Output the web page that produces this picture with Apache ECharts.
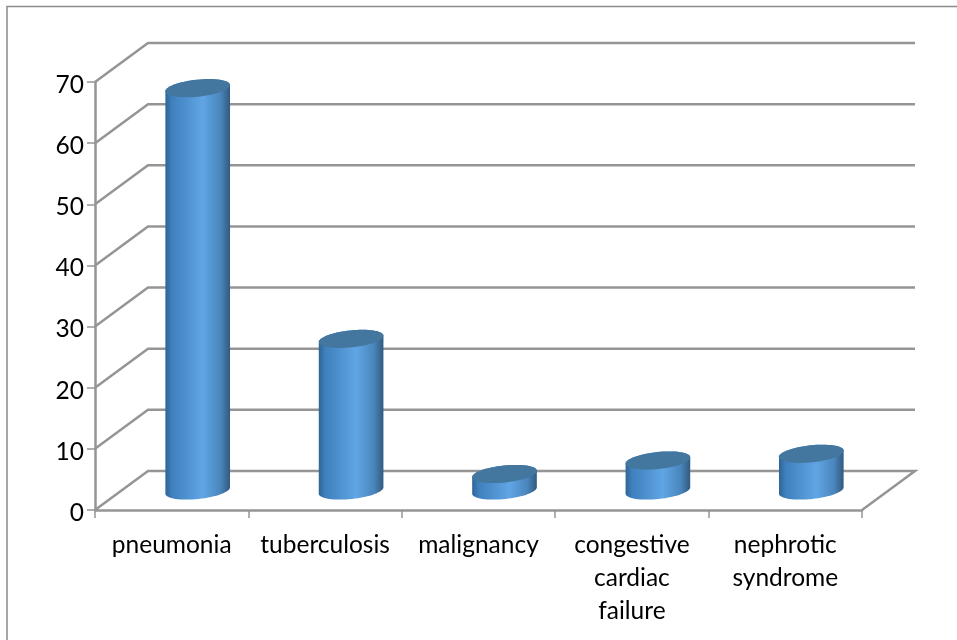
<!DOCTYPE html>
<html>
<head>
<meta charset="utf-8">
<title>chart</title>
<script src="https://cdn.jsdelivr.net/npm/echarts@6/dist/echarts.min.js"></script>
<style>
html,body{margin:0;padding:0;background:#fff;}
#main{width:957px;height:640px;}
</style>
</head>
<body>
<div id="main"></div>
<script>
// data
var categories = ['pneumonia', 'tuberculosis', 'malignancy', 'congestive\ncardiac\nfailure', 'nephrotic\nsyndrome'];
var values = [65.8, 24.8, 2.7, 4.9, 6];
var yTicks = [0, 10, 20, 30, 40, 50, 60, 70];

var myChart = echarts.init(document.getElementById('main'));
var lineColor = '#959595';
var fontName = 'Lato';
var depthX = 53, depthY = 39; //back wall offset

function wallItem(params, api) {
	var rect = params.coordSys;
	var y = api.coord([0, api.value(1)])[1];
	var left = rect.x, right = rect.x + rect.width;
	var pts;
	if (api.value(1) === 0) {
		//floor: also closes on the right side
		pts = [[left, y], [left + depthX, y - depthY], [right + depthX, y - depthY], [right, y]];
	} else {
		pts = [[left, y], [left + depthX, y - depthY], [right + depthX, y - depthY]];
	}
	return {
		type: 'polyline',
		shape: { points: pts },
		style: { fill: 'none', stroke: lineColor, lineWidth: 2.5 }
	};
}

//point on a tilted ellipse
function ellipsePoint(cx, cy, rx, ry, rot, t) {
	var ex = rx * Math.cos(t), ey = ry * Math.sin(t);
	return [cx + ex * Math.cos(rot) - ey * Math.sin(rot), cy + ex * Math.sin(rot) + ey * Math.cos(rot)];
}

function cylinderItem(params, api) {
	var top = api.coord([api.value(0), api.value(1)]);
	var base = api.coord([api.value(0), 0]);
	var cx = top[0] + depthX / 2 - 0.5;
	var topY = top[1] - depthY / 2;
	var baseY = base[1] - depthY / 2;
	var rx = 32.5, ry = 8.5, rot = -6 * Math.PI / 180;
	var body = [], topCap = [];
	var i;
	//outline: walk the lower half of the base then back over the top
	for (i = 0; i <= 32; i++) {
		body.push(ellipsePoint(cx, baseY, rx, ry, rot, Math.PI * i / 32 ));
	}
	for (i = 0; i <= 32; i++) {
		body.push(ellipsePoint(cx, topY, rx, ry, rot, Math.PI + Math.PI * i / 32));
	}
	for (i = 0; i < 64; i++) {
		topCap.push(ellipsePoint(cx, topY, rx, ry, rot, Math.PI * 2 * i / 64));
	}
	return {
		type: 'group',
		children: [{
			type: 'polygon',
			shape: { points: body },
			style: {
				fill: new echarts.graphic.LinearGradient(0, 0, 1, 0, [
					{ offset: 0, color: '#2f6496' },
					{ offset: 0.1, color: '#3f80bd' },
					{ offset: 0.58, color: '#60a5e5' },
					{ offset: 0.85, color: '#4a86bd' },
					{ offset: 1, color: '#315a80' }
				])
			}
		}, {
			type: 'polygon',
			shape: { points: topCap },
			style: { fill: '#44779f' }
		}]
	};
}

var option = {
	animation: false,
	backgroundColor: '#fff',
	textStyle: { fontFamily: fontName },
	graphic: [{
		type: 'polyline',
		shape: { points: [[7, 640], [7, 6.5], [957, 6.5]] },
		style: { fill: 'none', stroke: '#8a8a8a', lineWidth: 1.5 },
		silent: true
	}],
	grid: { left: 95, top: 82, width: 767, height: 428 },
	xAxis: {
		type: 'category',
		data: categories,
		boundaryGap: true,
		axisLine: { show: true, lineStyle: { color: lineColor, width: 2.5 } },
		axisTick: { show: true, length: 8, lineStyle: { color: lineColor, width: 1.5 } },
		axisLabel: { interval: 0, color: '#000', fontSize: 24.5, fontFamily: fontName, lineHeight: 33, margin: 19 }
	},
	yAxis: {
		type: 'value',
		min: 0,
		max: 70,
		interval: 10,
		splitLine: { show: false },
		axisLine: { show: true, lineStyle: { color: lineColor, width: 2.5 } },
		axisTick: { show: true, length: 8, lineStyle: { color: lineColor, width: 1.5 } },
		//small lineHeight with top align pushes the digits a little below the tick
		axisLabel: { color: '#000', fontSize: 24.5, fontFamily: fontName, margin: 11, verticalAlign: 'top', lineHeight: 6 }
	},
	series: [{
		name: 'wall',
		type: 'custom',
		z: 1,
		silent: true,
		clip: false,
		renderItem: wallItem,
		data: yTicks.map(function (v) { return [0, v]; })
	}, {
		name: 'cases',
		type: 'custom',
		z: 3,
		clip: false,
		renderItem: cylinderItem,
		encode: { x: 0, y: 1 },
		data: values.map(function (v, i) { return [i, v]; })
	}]
};
myChart.setOption(option);
</script>
</body>
</html>
